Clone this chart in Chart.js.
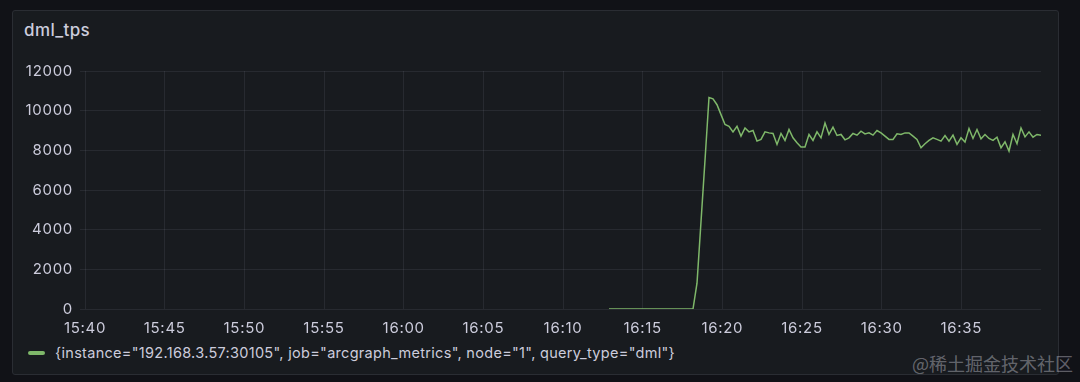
<!DOCTYPE html>
<html>
<head>
<meta charset="utf-8">
<script src="https://cdn.jsdelivr.net/npm/chart.js@4"></script>
<style>
  html, body { margin: 0; padding: 0; }
  body { width: 1080px; height: 382px; background: #111217; position: relative; overflow: hidden; font-family: Inter, "Noto Sans", sans-serif; }
  #panel { position: absolute; left: 12px; top: 10px; width: 1045px; height: 363px; background: #181b1f; border: 1px solid #2a2d33; border-radius: 3px; }
  #title { position: absolute; left: 24px; top: 20px; color: #ccccdc; font-size: 17px; font-weight: 500; letter-spacing: 0.4px; }
  #chart { position: absolute; left: 0; top: 55px; }
  #legend { position: absolute; left: 28px; top: 344px; color: #ccccdc; font-size: 14.5px; letter-spacing: 0.3px; display: flex; align-items: center; white-space: nowrap; }
  #legend .mark { width: 17px; height: 4px; border-radius: 2px; margin-right: 10px; }
  #wm { position: absolute; left: 912px; top: 350px; color: rgba(220,220,230,0.4); font-size: 18px; font-family: "Noto Sans CJK SC", sans-serif; }
</style>
</head>
<body>
<div id="panel"></div>
<div id="title">dml_tps</div>
<canvas id="chart" width="1060" height="285"></canvas>
<div id="legend"></div>
<div id="wm">@稀土掘金技术社区</div>
<script>
// seconds after 15:40
const startSec = 1965;   // 16:12:45
const stepSec = 15;
const endSec = 3585;     // 16:39:45
const tickLabels = ['15:40', '15:45', '15:50', '15:55', '16:00', '16:05', '16:10', '16:15', '16:20', '16:25', '16:30', '16:35'];
const seriesLabel = '{instance="192.168.3.57:30105", job="arcgraph_metrics", node="1", query_type="dml"}';
const tps = [
    0, 0, 0, 0, 0, 0, 0, 0, 0, 0, 0, 0, 0, 0, 0, 0, 0, 0, 0, 0, 0, 0,
    1300, 4400, 7500, 10667,
    10600, 10300, 9800, 9300, 9215, 8930, 9215, 8715, 9130, 8930,
    9000, 8465, 8550, 8930, 8880, 8850, 8300, 8850, 8500, 9050,
    8630, 8380, 8165, 8165, 8800, 8500, 8930, 8630, 9380, 8800,
    9165, 8750, 8800, 8530, 8630, 8850, 8765, 8965, 8830, 8880,
    8765, 9000, 8880, 8715, 8550, 8550, 8830, 8800, 8880, 8880,
    8715, 8550, 8130, 8330, 8500, 8630, 8550, 8465, 8750, 8465,
    8765, 8300, 8630, 8415, 9100, 8600, 9050, 8580, 8800, 8600,
    8500, 8665, 8130, 8430, 7965, 8800, 8330, 9130, 8680, 8930,
    8665, 8800, 8765
];
const lineColor = '#7fb86a';
const gridColor = 'rgba(204,204,220,0.09)';
const textColor = '#ccccdc';

const points = tps.map((v, i) => ({ x: startSec + i * stepSec, y: v }));

document.getElementById('legend').innerHTML =
    '<span class="mark" style="background:' + lineColor + '"></span><span></span>';
document.querySelector('#legend span:last-child').textContent = seriesLabel;

// the reference text is a bit wider than plain Inter
const spacing = {
    id: 'spacing',
    beforeDraw: (chart) => { chart.ctx.letterSpacing = '0.7px'; }
};

new Chart(document.getElementById('chart'), {
    type: 'line',
    data: {
        datasets: [{
            label: seriesLabel,
            data: points,
            borderColor: lineColor,
            borderWidth: 1.5,
            pointRadius: 0,
            tension: 0
        }]
    },
    plugins: [spacing],
    options: {
        responsive: false,
        animation: false,
        layout: { padding: { top: 5, right: 19, left: 0, bottom: 0 } },
        plugins: {
            legend: { display: false },
            tooltip: { enabled: false }
        },
        scales: {
            x: {
                type: 'linear',
                min: 0,
                max: endSec,
                afterFit: (s) => { s.height = 31; },
                border: { display: false },
                grid: { color: gridColor, drawTicks: false },
                ticks: {
                    stepSize: 300,
                    includeBounds: false,
                    autoSkip: false,
                    maxRotation: 0,
                    padding: 10,
                    color: textColor,
                    font: { family: 'Inter', size: 15 },
                    callback: (v) => tickLabels[Math.round(v / 300)]
                }
            },
            y: {
                min: 0,
                max: 12000,
                afterFit: (s) => { s.width = 85; },
                border: { display: false },
                grid: { color: gridColor, tickLength: 5 },
                ticks: {
                    stepSize: 2000,
                    padding: 7,
                    color: textColor,
                    font: { family: 'Inter', size: 15 },
                    callback: (v) => String(v)
                }
            }
        }
    }
});
</script>
</body>
</html>
